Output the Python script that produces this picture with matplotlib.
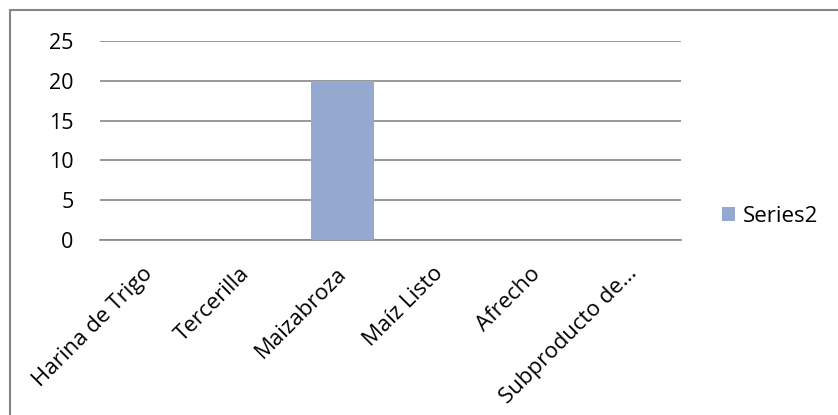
import matplotlib.pyplot as plt
import matplotlib.transforms as mtransforms
from matplotlib.patches import Rectangle

# Product categories and the quantities for Series2
categories = ['Harina de Trigo', 'Tercerilla', 'Maizabroza', 'Maíz Listo',
              'Afrecho', 'Subproducto de...']
series2 = [0, 0, 20, 0, 0, 0]
y_ticks = [0, 5, 10, 15, 20, 25]

W, H = 838, 415
fig = plt.figure(figsize=(W / 100, H / 100), dpi=100)
plt.rcParams['font.family'] = ['Open Sans', 'DejaVu Sans']

# chart frame (only top/left edges fall inside the canvas)
fig.patches.append(Rectangle((10 / W, -0.1), 1.2, (H - 10.5) / H + 0.1,
                             transform=fig.transFigure, fill=False,
                             edgecolor='#868686', linewidth=1.5))

# plot area in pixels: left 100, right 681, top 41, bottom 240
ax = fig.add_axes([100 / W, 1 - 240 / H, 581 / W, 199 / H])
x = list(range(len(categories)))
ax.bar(x, series2, width=0.65, color='#95a9d0', label='Series2', zorder=3)

ax.set_xlim(-0.5, len(categories) - 0.5)
ax.set_ylim(0, 25)
ax.set_yticks(y_ticks)
ax.set_yticklabels([str(v) for v in y_ticks], fontsize=15.5)
ax.set_xticks(x)
ax.set_xticklabels(categories, rotation=45, ha='right', rotation_mode='anchor',
                   fontsize=16)
ax.tick_params(axis='both', length=0)
ax.tick_params(axis='y', pad=19)
ax.tick_params(axis='x', pad=13)

# nudge the slanted labels a little down and left
shift = mtransforms.ScaledTranslation(-0.06, -0.05, fig.dpi_scale_trans)
for lbl in ax.get_xticklabels():
    lbl.set_transform(lbl.get_transform() + shift)

for s in ['top', 'right', 'left']:
    ax.spines[s].set_visible(False)
ax.spines['bottom'].set_color('#868686')
ax.spines['bottom'].set_linewidth(1.2)
ax.grid(axis='y', color='#868686', linewidth=1.2, zorder=0)
ax.set_axisbelow(True)

fig.legend(loc='center left', bbox_to_anchor=(722 / W, 1 - 216 / H),
           frameon=False, fontsize=16, handlelength=0.6, handleheight=0.6,
           handletextpad=0.35, borderaxespad=0, borderpad=0)

fig.savefig('out.png', dpi=100, facecolor='white')
